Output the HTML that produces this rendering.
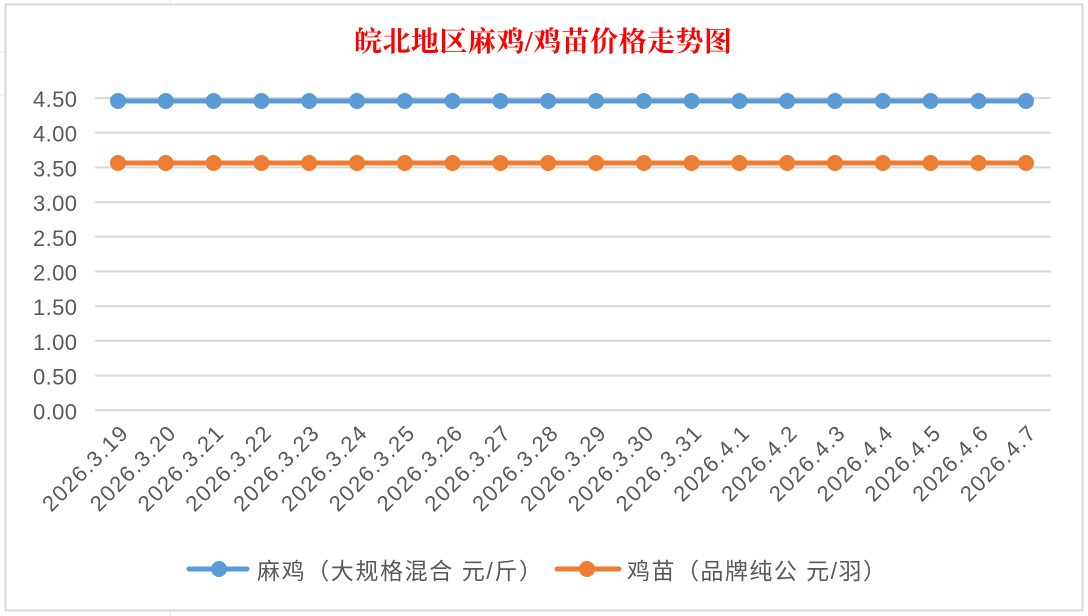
<!DOCTYPE html>
<html><head><meta charset="utf-8"><style>
html,body{margin:0;padding:0;background:#fff;}
svg{display:block;}
text{font-family:"Liberation Sans","Noto Sans CJK SC",sans-serif;fill:#595959;}
</style></head><body>
<svg width="1088" height="616" viewBox="0 0 1088 616" xmlns="http://www.w3.org/2000/svg">
<rect x="0" y="0" width="1088" height="616" fill="#fff"/>
<g stroke="#e6e6e6" stroke-width="1">
<line x1="0" y1="52" x2="5" y2="52"/><line x1="0" y1="95" x2="5" y2="95"/>
<line x1="170" y1="0" x2="170" y2="4"/><line x1="170" y1="611" x2="170" y2="616"/>
</g>
<rect x="5.5" y="4.5" width="1077" height="606" fill="#fff" stroke="#d9d9d9" stroke-width="2"/>
<text x="543" y="51" text-anchor="middle" textLength="378" style="font-family:'Liberation Serif','Noto Serif CJK SC',serif;font-size:28px;font-weight:bold;fill:#ff0000">皖北地区麻鸡/鸡苗价格走势图</text>
<g stroke="#d9d9d9" stroke-width="2">
<line x1="95" y1="98" x2="1051" y2="98"/>
<line x1="95" y1="132.7" x2="1051" y2="132.7"/>
<line x1="95" y1="167.4" x2="1051" y2="167.4"/>
<line x1="95" y1="202.1" x2="1051" y2="202.1"/>
<line x1="95" y1="236.8" x2="1051" y2="236.8"/>
<line x1="95" y1="271.5" x2="1051" y2="271.5"/>
<line x1="95" y1="306.2" x2="1051" y2="306.2"/>
<line x1="95" y1="340.9" x2="1051" y2="340.9"/>
<line x1="95" y1="375.6" x2="1051" y2="375.6"/>
<line x1="95" y1="410.3" x2="1051" y2="410.3"/>
</g>
<g font-size="22" text-anchor="end">
<text x="77" y="107" textLength="44">4.50</text><text x="77" y="141.7" textLength="44">4.00</text><text x="77" y="176.4" textLength="44">3.50</text>
<text x="77" y="211.1" textLength="44">3.00</text><text x="77" y="245.8" textLength="44">2.50</text><text x="77" y="280.5" textLength="44">2.00</text>
<text x="77" y="315.2" textLength="44">1.50</text><text x="77" y="349.9" textLength="44">1.00</text><text x="77" y="384.6" textLength="44">0.50</text>
<text x="77" y="419.3" textLength="44">0.00</text>
</g>
<line x1="118" y1="101" x2="1026" y2="101" stroke="#5b9bd5" stroke-width="5"/>
<line x1="118" y1="163" x2="1026" y2="163" stroke="#ed7d31" stroke-width="5"/>
<g fill="#5b9bd5">
<circle cx="118" cy="101" r="8"/><circle cx="165.8" cy="101" r="8"/><circle cx="213.6" cy="101" r="8"/><circle cx="261.4" cy="101" r="8"/><circle cx="309.2" cy="101" r="8"/><circle cx="357" cy="101" r="8"/><circle cx="404.8" cy="101" r="8"/><circle cx="452.6" cy="101" r="8"/><circle cx="500.4" cy="101" r="8"/><circle cx="548.2" cy="101" r="8"/><circle cx="596" cy="101" r="8"/><circle cx="643.8" cy="101" r="8"/><circle cx="691.6" cy="101" r="8"/><circle cx="739.4" cy="101" r="8"/><circle cx="787.2" cy="101" r="8"/><circle cx="835" cy="101" r="8"/><circle cx="882.8" cy="101" r="8"/><circle cx="930.6" cy="101" r="8"/><circle cx="978.4" cy="101" r="8"/><circle cx="1026" cy="101" r="8"/>
</g>
<g fill="#ed7d31">
<circle cx="118" cy="163" r="8"/><circle cx="165.8" cy="163" r="8"/><circle cx="213.6" cy="163" r="8"/><circle cx="261.4" cy="163" r="8"/><circle cx="309.2" cy="163" r="8"/><circle cx="357" cy="163" r="8"/><circle cx="404.8" cy="163" r="8"/><circle cx="452.6" cy="163" r="8"/><circle cx="500.4" cy="163" r="8"/><circle cx="548.2" cy="163" r="8"/><circle cx="596" cy="163" r="8"/><circle cx="643.8" cy="163" r="8"/><circle cx="691.6" cy="163" r="8"/><circle cx="739.4" cy="163" r="8"/><circle cx="787.2" cy="163" r="8"/><circle cx="835" cy="163" r="8"/><circle cx="882.8" cy="163" r="8"/><circle cx="930.6" cy="163" r="8"/><circle cx="978.4" cy="163" r="8"/><circle cx="1026" cy="163" r="8"/>
</g>
<g font-size="22" text-anchor="end">
<text transform="translate(129,435) rotate(-45)" textLength="110">2026.3.19</text>
<text transform="translate(176.8,435) rotate(-45)" textLength="110">2026.3.20</text>
<text transform="translate(224.6,435) rotate(-45)" textLength="110">2026.3.21</text>
<text transform="translate(272.4,435) rotate(-45)" textLength="110">2026.3.22</text>
<text transform="translate(320.2,435) rotate(-45)" textLength="110">2026.3.23</text>
<text transform="translate(368,435) rotate(-45)" textLength="110">2026.3.24</text>
<text transform="translate(415.8,435) rotate(-45)" textLength="110">2026.3.25</text>
<text transform="translate(463.6,435) rotate(-45)" textLength="110">2026.3.26</text>
<text transform="translate(511.4,435) rotate(-45)" textLength="110">2026.3.27</text>
<text transform="translate(559.2,435) rotate(-45)" textLength="110">2026.3.28</text>
<text transform="translate(607,435) rotate(-45)" textLength="110">2026.3.29</text>
<text transform="translate(654.8,435) rotate(-45)" textLength="110">2026.3.30</text>
<text transform="translate(702.6,435) rotate(-45)" textLength="110">2026.3.31</text>
<text transform="translate(750.4,435) rotate(-45)" textLength="96">2026.4.1</text>
<text transform="translate(798.2,435) rotate(-45)" textLength="96">2026.4.2</text>
<text transform="translate(846,435) rotate(-45)" textLength="96">2026.4.3</text>
<text transform="translate(893.8,435) rotate(-45)" textLength="96">2026.4.4</text>
<text transform="translate(941.6,435) rotate(-45)" textLength="96">2026.4.5</text>
<text transform="translate(989.4,435) rotate(-45)" textLength="96">2026.4.6</text>
<text transform="translate(1037,435) rotate(-45)" textLength="96">2026.4.7</text>
</g>
<line x1="189" y1="569" x2="247" y2="569" stroke="#5b9bd5" stroke-width="5" stroke-linecap="round"/>
<circle cx="219" cy="569" r="8" fill="#5b9bd5"/>
<text x="257" y="579" font-size="23" textLength="285">麻鸡（大规格混合 元/斤）</text>
<line x1="557" y1="569" x2="619" y2="569" stroke="#ed7d31" stroke-width="5" stroke-linecap="round"/>
<circle cx="587" cy="569" r="8" fill="#ed7d31"/>
<text x="627" y="579" font-size="23" textLength="259">鸡苗（品牌纯公 元/羽）</text>
</svg>
</body></html>
